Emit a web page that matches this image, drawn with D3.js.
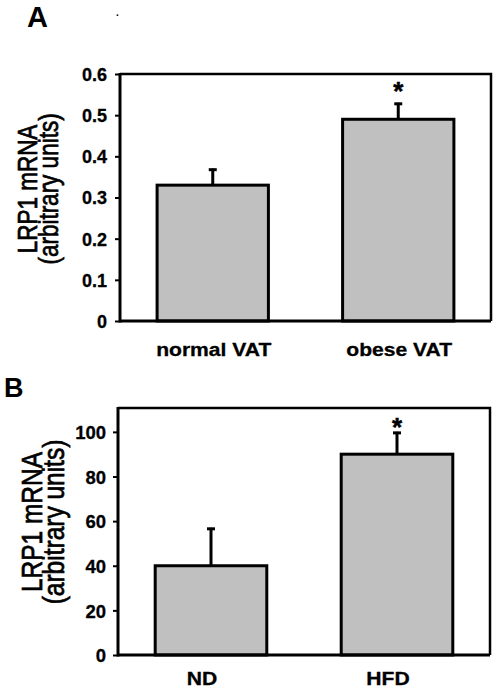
<!DOCTYPE html>
<html><head><meta charset="utf-8">
<script src="https://cdn.jsdelivr.net/npm/d3@7"></script>
<style>body{margin:0;background:#fff}svg{display:block}</style>
</head><body>
<script>
// ---- data ----
const categoriesA = ["normal VAT", "obese VAT"];
const valuesA = [0.33, 0.49];
const errorsA = [0.04, 0.04];
const sigA = ["", "*"];
const ticksA = [0, 0.1, 0.2, 0.3, 0.4, 0.5, 0.6];
const tickLabelsA = ["0", "0.1", "0.2", "0.3", "0.4", "0.5", "0.6"];

const categoriesB = ["ND", "HFD"];
const valuesB = [40, 90];
const errorsB = [17, 10];
const sigB = ["", "*"];
const ticksB = [0, 20, 40, 60, 80, 100];
const tickLabelsB = ["0", "20", "40", "60", "80", "100"];

const yTitle1 = "LRP1 mRNA";
const yTitle2 = "(arbitrary units)";

const W = 498, H = 692;
const svg = d3.select("body").append("svg").attr("width", W).attr("height", H);
const FONT = "Arial, 'Liberation Sans', sans-serif";
const SX = 1.14;

function panel(o) {
  const g = svg.append("g");
  const x = d3.scaleBand().domain(o.cats).range([o.left, o.right]).paddingInner(0.4).paddingOuter(0.2);
  const y = d3.scaleLinear().domain([0, o.yMax]).range([o.bottom, o.top]);

  // box top and right
  g.append("path")
    .attr("d", `M${o.left},${o.top}H${o.right}V${o.bottom}`)
    .attr("fill", "none").attr("stroke", "#000").attr("stroke-width", 2.5);

  // bars
  o.cats.forEach((c, i) => {
    const v = o.vals[i];
    g.append("rect")
      .attr("x", x(c)).attr("y", y(v))
      .attr("width", x.bandwidth()).attr("height", y(0) - y(v))
      .attr("fill", "#c0c0c0").attr("stroke", "#000").attr("stroke-width", 3);
    const cx = x(c) + x.bandwidth() / 2;
    const et = y(v + o.errs[i]);
    g.append("line").attr("x1", cx).attr("x2", cx).attr("y1", y(v)).attr("y2", et)
      .attr("stroke", "#000").attr("stroke-width", 3);
    g.append("line").attr("x1", cx - 4).attr("x2", cx + 4).attr("y1", et + 1).attr("y2", et + 1)
      .attr("stroke", "#000").attr("stroke-width", 3);
    if (o.sig[i]) {
      g.append("text").attr("x", cx).attr("y", et + o.starDy)
        .attr("text-anchor", "middle").attr("font-family", FONT).attr("font-weight", "bold")
        .attr("font-size", 26).attr("stroke", "#000").attr("stroke-width", 0.5).text(o.sig[i]);
    }
    // category labels
    g.append("text")
      .attr("transform", `translate(${cx + o.labDx},${o.labY}) scale(${SX},1)`)
      .attr("text-anchor", "middle").attr("font-family", FONT).attr("font-weight", "bold")
      .attr("font-size", 18.5).attr("stroke", "#000").attr("stroke-width", 0.3).text(c);
  });

  // y axis
  const ax = g.append("g").attr("transform", `translate(${o.left},0)`)
    .call(d3.axisLeft(y).tickValues(o.ticks).tickSize(5).tickPadding(0)
      .tickFormat((d, i) => o.tickLabels[i]));
  ax.select(".domain").remove();
  ax.selectAll(".tick line").attr("stroke", "#000").attr("stroke-width", 2);
  ax.selectAll(".tick text").remove();
  ax.selectAll(".tick").append("text")
    .attr("x", o.tickLabX - o.left)
    .attr("dy", "0.36em").attr("text-anchor", "end").attr("fill", "#000")
    .attr("stroke", "#000").attr("stroke-width", 0.3)
    .attr("font-family", FONT).attr("font-weight", "bold").attr("font-size", o.tickFs)
    .text((d, i) => o.tickLabels[i]);

  // axis lines (left and bottom)
  g.append("line").attr("x1", o.left).attr("x2", o.left).attr("y1", o.top - 1).attr("y2", o.bottom + 1.5)
    .attr("stroke", "#000").attr("stroke-width", 3);
  g.append("line").attr("x1", o.left).attr("x2", o.right).attr("y1", o.bottom).attr("y2", o.bottom)
    .attr("stroke", "#000").attr("stroke-width", 3);

  // y title
  [[yTitle1, o.t1x], [yTitle2, o.t2x]].forEach(([t, tx]) => {
    g.append("text")
      .attr("transform", `translate(${tx},${o.titleY}) scale(1.2,1) rotate(-90)`)
      .attr("text-anchor", "middle").attr("font-family", FONT)
      .attr("font-size", o.titleFs).attr("fill", "#000")
      .attr("stroke", "#000").attr("stroke-width", 0.6).text(t);
  });

  // panel letter
  g.append("text").attr("x", o.letterX).attr("y", o.letterY)
    .attr("font-family", FONT).attr("font-weight", "bold").attr("font-size", o.letterFs)
    .text(o.letter);
}

panel({
  cats: categoriesA, vals: valuesA, errs: errorsA, sig: sigA, ticks: ticksA, tickLabels: tickLabelsA,
  yMax: 0.6, left: 120, right: 491, top: 74, bottom: 321,
  starDy: -3, labDx: 1, labY: 356, tickLabX: 107, tickFs: 18,
  t1x: 37, t2x: 58, titleY: 189, titleFs: 22.5,
  letter: "A", letterX: 27, letterY: 27, letterFs: 29
});

panel({
  cats: categoriesB, vals: valuesB, errs: errorsB, sig: sigB, ticks: ticksB, tickLabels: tickLabelsB,
  yMax: 110.7, left: 118, right: 490, top: 408, bottom: 655,
  starDy: 4, labDx: -9, labY: 685, tickLabX: 106, tickFs: 18.5,
  t1x: 42, t2x: 64, titleY: 522, titleFs: 24.5,
  letter: "B", letterX: 4, letterY: 397, letterFs: 27
});

// stray marks at the top of the figure
svg.append("text").attr("x", 116).attr("y", 16).attr("font-family", FONT)
  .attr("font-weight", "bold").attr("font-size", 10).text(".");
</script>
</body></html>
